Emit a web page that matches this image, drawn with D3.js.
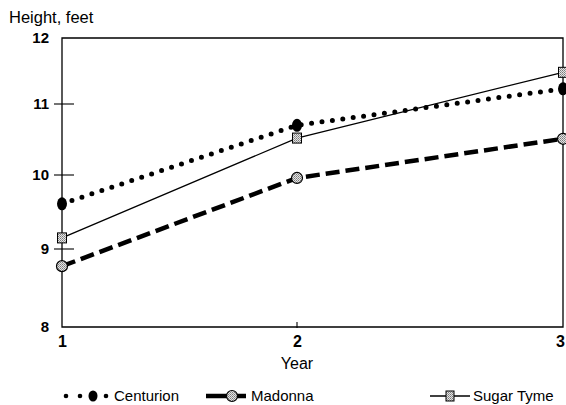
<!DOCTYPE html>
<html><head><meta charset="utf-8">
<script src="https://cdn.jsdelivr.net/npm/d3@7"></script>
<style>
body{margin:0;background:#fff}
svg{display:block}
text{font-family:Arial,"Liberation Sans",Helvetica,sans-serif;fill:#000}
</style>
</head><body>
<svg id="chart" width="566" height="405"></svg>
<script>
// Tree height by year for three cultivars
const years = [1, 2, 3];
const yTicks = [8, 9, 10, 11, 12];
const centurion = [9.61, 10.70, 11.23];
const madonna = [8.78, 9.96, 10.51];
const sugarTyme = [9.15, 10.52, 11.48];
const seriesNames = ["Centurion", "Madonna", "Sugar Tyme"];

const svg = d3.select("#chart");

// Slightly uneven spacing, as printed on the page
const x = d3.scaleLinear().domain([1, 2, 3]).range([62, 297, 563]);
const y = d3.scaleLinear().domain([8, 9, 10, 11, 12]).range([327, 249, 175, 104, 38]);

// Speckled gray fill used by the hollow markers
const defs = svg.append("defs");
const pat = defs.append("pattern").attr("id", "speckle")
  .attr("width", 2).attr("height", 2).attr("patternUnits", "userSpaceOnUse");
pat.append("rect").attr("width", 2).attr("height", 2).attr("fill", "#e4e4e4");
pat.append("rect").attr("width", 1).attr("height", 1).attr("fill", "#7a7a7a");
pat.append("rect").attr("x", 1).attr("y", 1).attr("width", 1).attr("height", 1).attr("fill", "#9a9a9a");

// Axis title
svg.append("text").attr("x", 9).attr("y", 23).attr("font-size", 16.5).text("Height, feet");

// Frame: left and bottom axes plus top and right edges
const x0 = x(1), x1 = x(3), yTop = y(12), yBot = y(8);
svg.append("path").attr("fill", "none").attr("stroke", "#000").attr("stroke-width", 1.3)
  .attr("d", `M${x0},${yTop}H${x1}V${yBot}H${x0}Z`);

// Y axis labels via d3 axis
const yAxis = svg.append("g").attr("transform", `translate(${x0 - 13},0)`)
  .call(d3.axisLeft(y).tickValues(yTicks).tickSize(0).tickPadding(0).tickFormat(d3.format("d")));
yAxis.select(".domain").remove();
yAxis.selectAll("text").attr("font-size", 15).attr("font-weight", "bold")
  .style("font-family", "Arial, 'Liberation Sans', sans-serif");

// Cross ticks on the y axis
svg.append("g").selectAll("line").data(yTicks.filter(d => d > 8 && d < 12)).join("line")
  .attr("x1", x0 - 8).attr("x2", x0 + 12)
  .attr("y1", d => y(d)).attr("y2", d => y(d))
  .attr("stroke", "#000").attr("stroke-width", 1.1);

// X axis labels
const xAxis = svg.append("g").attr("transform", `translate(0,${yBot + 9})`)
  .call(d3.axisBottom(x).tickValues(years).tickSize(0).tickPadding(0).tickFormat(d3.format("d")));
xAxis.select(".domain").remove();
xAxis.selectAll("text").attr("font-size", 16).attr("font-weight", "bold")
  .style("font-family", "Arial, 'Liberation Sans', sans-serif");
// keep the last label inside the page edge
xAxis.selectAll("text").filter(d => d === years[years.length - 1]).attr("dx", -3);

svg.append("g").selectAll("line").data(years.filter(d => d > 1 && d < 3)).join("line")
  .attr("x1", d => x(d)).attr("x2", d => x(d))
  .attr("y1", yBot - 5).attr("y2", yBot + 1)
  .attr("stroke", "#000").attr("stroke-width", 1.1);

svg.append("text").attr("x", x(2)).attr("y", 369).attr("text-anchor", "middle")
  .attr("font-size", 16).text("Year");

const line = d3.line().x((d, i) => x(years[i])).y(d => y(d));

// Madonna: heavy dashed line
svg.append("path").datum(madonna).attr("d", line).attr("fill", "none")
  .attr("stroke", "#000").attr("stroke-width", 4.5).attr("stroke-dasharray", "14 6");

// Sugar Tyme: thin solid line
svg.append("path").datum(sugarTyme).attr("d", line).attr("fill", "none")
  .attr("stroke", "#000").attr("stroke-width", 1.3);

// Centurion: round dotted line
svg.append("path").datum(centurion).attr("d", line).attr("fill", "none")
  .attr("stroke", "#000").attr("stroke-width", 5).attr("stroke-linecap", "round")
  .attr("stroke-dasharray", "0 10.5");

// Markers
svg.append("g").selectAll("circle").data(madonna).join("circle")
  .attr("cx", (d, i) => x(years[i])).attr("cy", d => y(d)).attr("r", 5.5)
  .attr("fill", "url(#speckle)").attr("stroke", "#000").attr("stroke-width", 1.2);

svg.append("g").selectAll("rect").data(sugarTyme).join("rect")
  .attr("x", (d, i) => x(years[i]) - 4.5).attr("y", d => y(d) - 5)
  .attr("width", 9).attr("height", 10)
  .attr("fill", "url(#speckle)").attr("stroke", "#000").attr("stroke-width", 1);

svg.append("g").selectAll("ellipse").data(centurion).join("ellipse")
  .attr("cx", (d, i) => x(years[i])).attr("cy", d => y(d)).attr("rx", 5).attr("ry", 6.5)
  .attr("fill", "#000");

// Legend
const ly = 396;
const lg = svg.append("g");
// Centurion key
[66, 80, 106].forEach(cx => lg.append("circle").attr("cx", cx).attr("cy", ly).attr("r", 2.3).attr("fill", "#000"));
lg.append("ellipse").attr("cx", 93).attr("cy", ly).attr("rx", 4.5).attr("ry", 5.5).attr("fill", "#000");
lg.append("text").attr("x", 114).attr("y", ly + 5).attr("font-size", 15).text(seriesNames[0]);
// Madonna key
lg.append("line").attr("x1", 206).attr("x2", 246).attr("y1", ly).attr("y2", ly)
  .attr("stroke", "#000").attr("stroke-width", 4.5);
lg.append("circle").attr("cx", 232).attr("cy", ly).attr("r", 5.5)
  .attr("fill", "url(#speckle)").attr("stroke", "#000").attr("stroke-width", 1.2);
lg.append("text").attr("x", 251).attr("y", ly + 5).attr("font-size", 15).text(seriesNames[1]);
// Sugar Tyme key
lg.append("line").attr("x1", 430).attr("x2", 470).attr("y1", ly).attr("y2", ly)
  .attr("stroke", "#000").attr("stroke-width", 1.3);
lg.append("rect").attr("x", 446).attr("y", ly - 5).attr("width", 8).attr("height", 10)
  .attr("fill", "url(#speckle)").attr("stroke", "#000").attr("stroke-width", 1);
lg.append("text").attr("x", 473).attr("y", ly + 5).attr("font-size", 15).text(seriesNames[2]);
</script>
</body></html>
